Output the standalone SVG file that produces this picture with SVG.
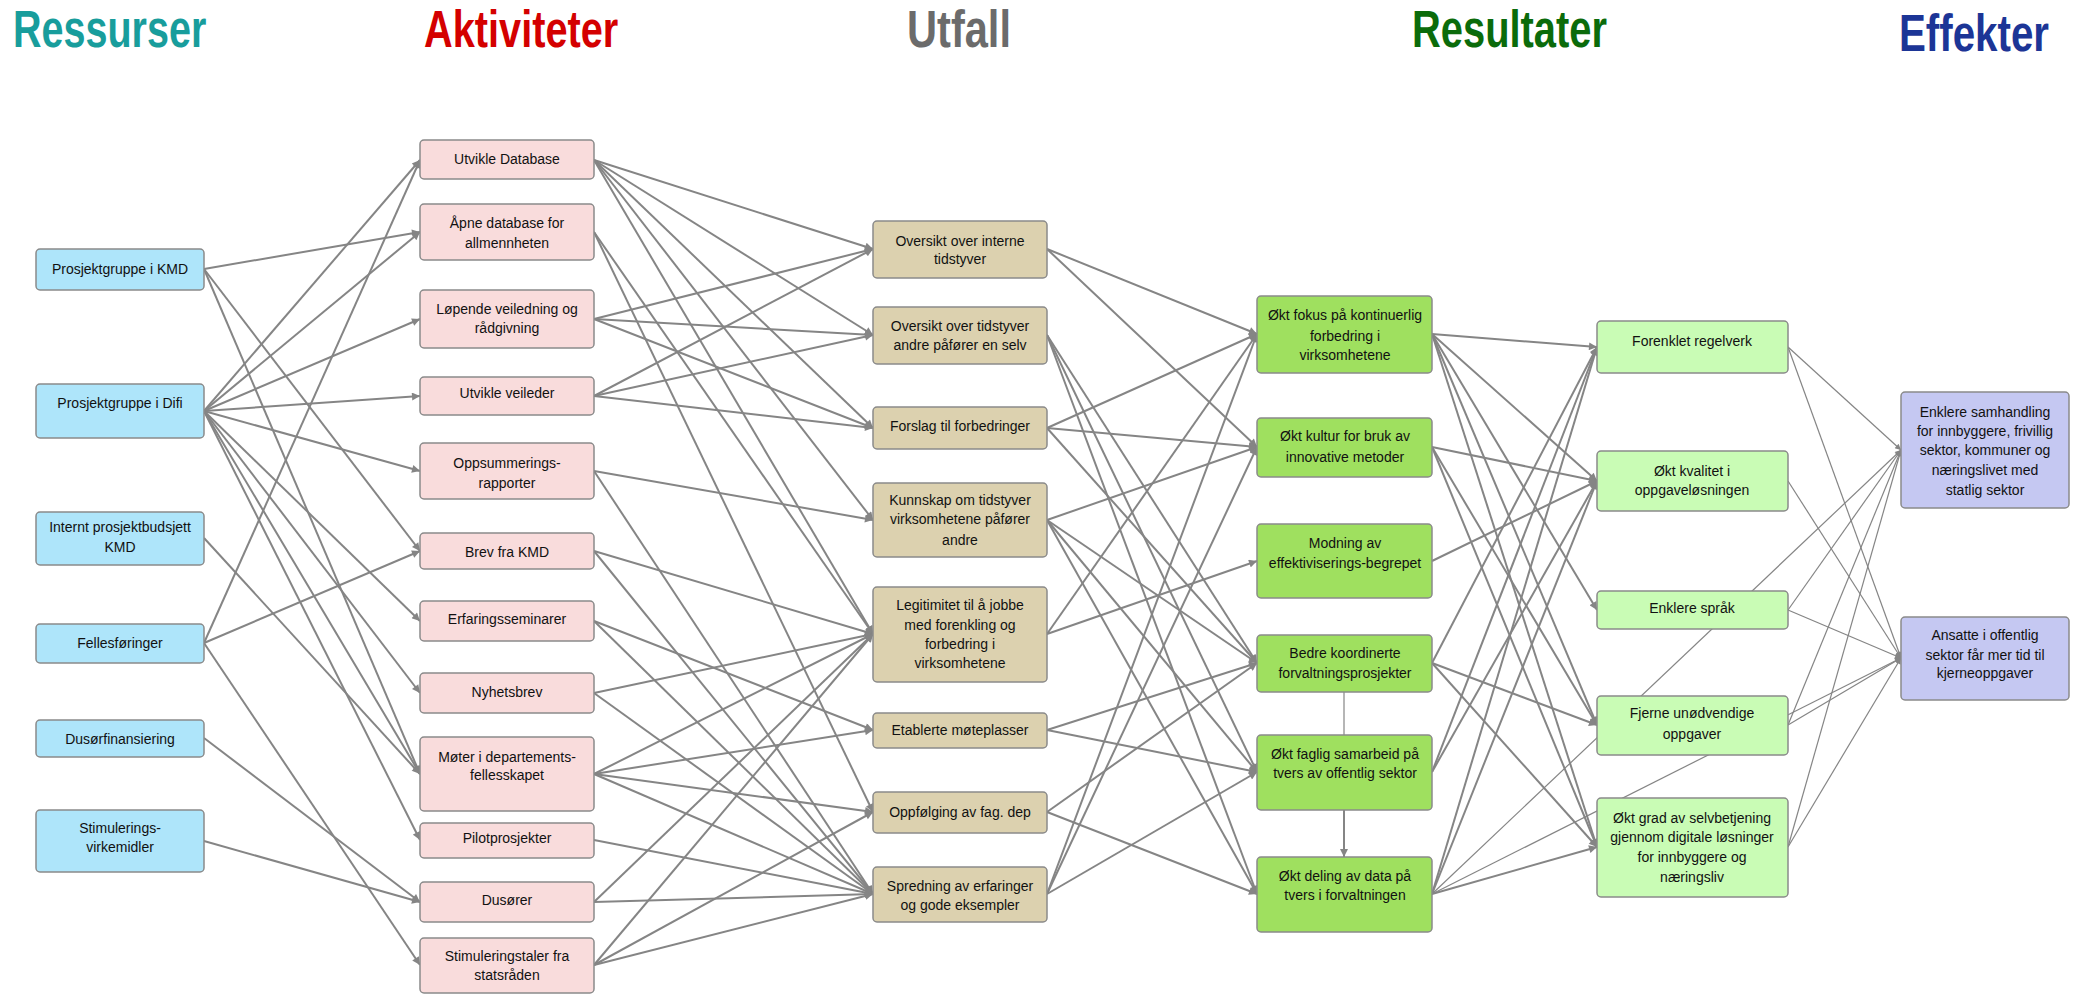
<svg xmlns="http://www.w3.org/2000/svg" width="2080" height="997" viewBox="0 0 2080 997">
<style>
.h{font-family:"Liberation Sans",Arial,sans-serif;font-weight:bold;font-size:52px}
.t{font-family:"Liberation Sans",Arial,sans-serif;font-size:14px;text-anchor:middle;fill:#111}
.b{stroke:#8a8a8a;stroke-width:1.5}
.r{fill:#aee5fa}.p{fill:#f9dcdc}.u{fill:#dcd1af}.g{fill:#9fe05f}.l{fill:#c9fcb5}.e{fill:#c5c8f2}
.c path{fill:none;stroke:#858585;stroke-width:2;marker-end:url(#a)}
.c path.s{stroke-width:1.2;marker-end:url(#s)}
.c path.n{stroke-width:1.2;marker-end:none}
</style>
<defs>
<marker id="a" viewBox="0 0 10 10" refX="10" refY="5" markerWidth="10" markerHeight="8" markerUnits="userSpaceOnUse" orient="auto"><path d="M0,0 L10,5 L0,10 z" fill="#858585"/></marker>
<marker id="s" viewBox="0 0 10 10" refX="10" refY="5" markerWidth="8" markerHeight="6" markerUnits="userSpaceOnUse" orient="auto"><path d="M0,0 L10,5 L0,10 z" fill="#858585"/></marker>
</defs>
<rect width="2080" height="997" fill="#fff"/>
<g id="headers">
<text class="h" transform="translate(13,47) scale(0.76,1)" fill="#189d9c">Ressurser</text>
<text class="h" transform="translate(424,47) scale(0.764,1)" fill="#d40000">Aktiviteter</text>
<text class="h" transform="translate(907,47) scale(0.8,1)" fill="#6b6b6b">Utfall</text>
<text class="h" transform="translate(1412,47) scale(0.767,1)" fill="#0b6b0b">Resultater</text>
<text class="h" transform="translate(1899,51) scale(0.775,1)" fill="#1c3596">Effekter</text>
</g>
<g id="connectors" class="c">
<path d="M204,269 L420,232"/><path d="M204,269 L420,551"/><path d="M204,269 L420,774"/>
<path d="M204,411 L420,160"/><path d="M204,411 L420,232"/><path d="M204,411 L420,319"/><path d="M204,411 L420,396"/><path d="M204,411 L420,471"/><path d="M204,411 L420,621"/><path d="M204,411 L420,693"/><path d="M204,411 L420,774"/><path d="M204,411 L420,840"/>
<path d="M204,538 L420,774"/>
<path d="M204,643 L420,160"/><path d="M204,643 L420,551"/><path d="M204,643 L420,965"/>
<path d="M204,738 L420,902"/><path d="M204,841 L420,902"/>
<path d="M594,160 L873,249"/><path d="M594,160 L873,335"/><path d="M594,160 L873,428"/><path d="M594,160 L873,520"/><path d="M594,160 L873,634"/>
<path d="M594,232 L873,634"/><path d="M594,232 L873,812"/>
<path d="M594,319 L873,249"/><path d="M594,319 L873,335"/><path d="M594,319 L873,428"/>
<path d="M594,396 L873,249"/><path d="M594,396 L873,335"/><path d="M594,396 L873,428"/>
<path d="M594,471 L873,520"/><path d="M594,471 L873,894"/>
<path d="M594,551 L873,634"/><path d="M594,551 L873,894"/>
<path d="M594,621 L873,730"/><path d="M594,621 L873,894"/>
<path d="M594,693 L873,634"/><path d="M594,693 L873,894"/>
<path d="M594,774 L873,634"/><path d="M594,774 L873,730"/><path d="M594,774 L873,812"/><path d="M594,774 L873,894"/>
<path d="M594,840 L873,894"/>
<path d="M594,902 L873,634"/><path d="M594,902 L873,894"/>
<path d="M594,965 L873,634"/><path d="M594,965 L873,812"/><path d="M594,965 L873,894"/>
<path d="M1047,249 L1257,334"/><path d="M1047,249 L1257,447"/>
<path d="M1047,335 L1257,663"/><path d="M1047,335 L1257,772"/><path d="M1047,335 L1257,894"/>
<path d="M1047,428 L1257,334"/><path d="M1047,428 L1257,447"/><path d="M1047,428 L1257,663"/>
<path d="M1047,520 L1257,447"/><path d="M1047,520 L1257,663"/><path d="M1047,520 L1257,772"/><path d="M1047,520 L1257,894"/>
<path d="M1047,634 L1257,334"/><path d="M1047,634 L1257,561"/>
<path d="M1047,730 L1257,663"/><path d="M1047,730 L1257,772"/>
<path d="M1047,812 L1257,663"/><path d="M1047,812 L1257,894"/>
<path d="M1047,894 L1257,334"/><path d="M1047,894 L1257,447"/><path d="M1047,894 L1257,772"/>
<path d="M1432,334 L1597,347"/><path d="M1432,334 L1597,481"/><path d="M1432,334 L1597,610"/><path d="M1432,334 L1597,725"/><path d="M1432,334 L1597,847"/>
<path d="M1432,447 L1597,481"/><path d="M1432,447 L1597,725"/><path d="M1432,447 L1597,847"/>
<path d="M1432,561 L1597,481"/>
<path d="M1432,663 L1597,347"/><path d="M1432,663 L1597,725"/><path d="M1432,663 L1597,847"/>
<path d="M1432,772 L1597,347"/><path d="M1432,772 L1597,481"/>
<path d="M1432,894 L1597,347"/><path d="M1432,894 L1597,481"/><path d="M1432,894 L1597,847"/>
<path class="n" d="M1344,692 L1344,735"/>
<path d="M1344,810 L1344,857"/>
<path class="s" d="M1432,894 L1901,450"/><path class="s" d="M1432,894 L1901,658"/>
<path class="s" d="M1788,347 L1901,450"/><path class="s" d="M1788,347 L1901,658"/>
<path class="s" d="M1788,481 L1901,658"/>
<path class="s" d="M1788,610 L1901,450"/><path class="s" d="M1788,610 L1901,658"/>
<path class="s" d="M1788,725 L1901,450"/><path class="s" d="M1788,725 L1901,658"/>
<path class="s" d="M1788,847 L1901,450"/><path class="s" d="M1788,847 L1901,658"/>
</g>
<g id="r1"><rect class="b r" x="36" y="249" width="168" height="41" rx="4"/><text class="t" x="120" y="274">Prosjektgruppe i KMD</text></g>
<g id="r2"><rect class="b r" x="36" y="384" width="168" height="54" rx="4"/><text class="t" x="120" y="408">Prosjektgruppe i Difi</text></g>
<g id="r3"><rect class="b r" x="36" y="512" width="168" height="53" rx="4"/><text class="t" x="120" y="532">Internt prosjektbudsjett</text><text class="t" x="120" y="552">KMD</text></g>
<g id="r4"><rect class="b r" x="36" y="624" width="168" height="39" rx="4"/><text class="t" x="120" y="648">Fellesføringer</text></g>
<g id="r5"><rect class="b r" x="36" y="720" width="168" height="37" rx="4"/><text class="t" x="120" y="744">Dusørfinansiering</text></g>
<g id="r6"><rect class="b r" x="36" y="810" width="168" height="62" rx="4"/><text class="t" x="120" y="833">Stimulerings-</text><text class="t" x="120" y="852">virkemidler</text></g>
<g id="a1"><rect class="b p" x="420" y="140" width="174" height="39" rx="4"/><text class="t" x="507" y="164">Utvikle Database</text></g>
<g id="a2"><rect class="b p" x="420" y="204" width="174" height="56" rx="4"/><text class="t" x="507" y="228">Åpne database for</text><text class="t" x="507" y="248">allmennheten</text></g>
<g id="a3"><rect class="b p" x="420" y="290" width="174" height="58" rx="4"/><text class="t" x="507" y="314">Løpende veiledning og</text><text class="t" x="507" y="333">rådgivning</text></g>
<g id="a4"><rect class="b p" x="420" y="377" width="174" height="38" rx="4"/><text class="t" x="507" y="398">Utvikle veileder</text></g>
<g id="a5"><rect class="b p" x="420" y="443" width="174" height="56" rx="4"/><text class="t" x="507" y="468">Oppsummerings-</text><text class="t" x="507" y="488">rapporter</text></g>
<g id="a6"><rect class="b p" x="420" y="533" width="174" height="36" rx="4"/><text class="t" x="507" y="557">Brev fra KMD</text></g>
<g id="a7"><rect class="b p" x="420" y="601" width="174" height="40" rx="4"/><text class="t" x="507" y="624">Erfaringsseminarer</text></g>
<g id="a8"><rect class="b p" x="420" y="673" width="174" height="40" rx="4"/><text class="t" x="507" y="697">Nyhetsbrev</text></g>
<g id="a9"><rect class="b p" x="420" y="737" width="174" height="74" rx="4"/><text class="t" x="507" y="762">Møter i departements-</text><text class="t" x="507" y="780">fellesskapet</text></g>
<g id="a10"><rect class="b p" x="420" y="823" width="174" height="35" rx="4"/><text class="t" x="507" y="843">Pilotprosjekter</text></g>
<g id="a11"><rect class="b p" x="420" y="882" width="174" height="40" rx="4"/><text class="t" x="507" y="905">Dusører</text></g>
<g id="a12"><rect class="b p" x="420" y="938" width="174" height="55" rx="4"/><text class="t" x="507" y="961">Stimuleringstaler fra</text><text class="t" x="507" y="980">statsråden</text></g>
<g id="u1"><rect class="b u" x="873" y="221" width="174" height="57" rx="4"/><text class="t" x="960" y="246">Oversikt over interne</text><text class="t" x="960" y="264">tidstyver</text></g>
<g id="u2"><rect class="b u" x="873" y="307" width="174" height="57" rx="4"/><text class="t" x="960" y="331">Oversikt over tidstyver</text><text class="t" x="960" y="350">andre påfører en selv</text></g>
<g id="u3"><rect class="b u" x="873" y="407" width="174" height="42" rx="4"/><text class="t" x="960" y="431">Forslag til forbedringer</text></g>
<g id="u4"><rect class="b u" x="873" y="483" width="174" height="74" rx="4"/><text class="t" x="960" y="505">Kunnskap om tidstyver</text><text class="t" x="960" y="524">virksomhetene påfører</text><text class="t" x="960" y="545">andre</text></g>
<g id="u5"><rect class="b u" x="873" y="587" width="174" height="95" rx="4"/><text class="t" x="960" y="610">Legitimitet til å jobbe</text><text class="t" x="960" y="630">med forenkling og</text><text class="t" x="960" y="649">forbedring  i</text><text class="t" x="960" y="668">virksomhetene</text></g>
<g id="u6"><rect class="b u" x="873" y="713" width="174" height="35" rx="4"/><text class="t" x="960" y="735">Etablerte møteplasser</text></g>
<g id="u7"><rect class="b u" x="873" y="792" width="174" height="41" rx="4"/><text class="t" x="960" y="817">Oppfølging av fag. dep</text></g>
<g id="u8"><rect class="b u" x="873" y="867" width="174" height="55" rx="4"/><text class="t" x="960" y="891">Spredning av erfaringer</text><text class="t" x="960" y="910">og gode eksempler</text></g>
<g id="s1"><rect class="b g" x="1257" y="296" width="175" height="77" rx="4"/><text class="t" x="1345" y="320">Økt fokus på kontinuerlig</text><text class="t" x="1345" y="341">forbedring i</text><text class="t" x="1345" y="360">virksomhetene</text></g>
<g id="s2"><rect class="b g" x="1257" y="418" width="175" height="59" rx="4"/><text class="t" x="1345" y="441">Økt kultur for bruk av</text><text class="t" x="1345" y="462">innovative metoder</text></g>
<g id="s3"><rect class="b g" x="1257" y="524" width="175" height="74" rx="4"/><text class="t" x="1345" y="548">Modning av</text><text class="t" x="1345" y="568">effektiviserings-begrepet</text></g>
<g id="s4"><rect class="b g" x="1257" y="635" width="175" height="57" rx="4"/><text class="t" x="1345" y="658">Bedre koordinerte</text><text class="t" x="1345" y="678">forvaltningsprosjekter</text></g>
<g id="s5"><rect class="b g" x="1257" y="735" width="175" height="75" rx="4"/><text class="t" x="1345" y="759">Økt faglig samarbeid på</text><text class="t" x="1345" y="778">tvers av offentlig sektor</text></g>
<g id="s6"><rect class="b g" x="1257" y="857" width="175" height="75" rx="4"/><text class="t" x="1345" y="881">Økt deling av data på</text><text class="t" x="1345" y="900">tvers i forvaltningen</text></g>
<g id="v1"><rect class="b l" x="1597" y="321" width="191" height="52" rx="4"/><text class="t" x="1692" y="346">Forenklet regelverk</text></g>
<g id="v2"><rect class="b l" x="1597" y="451" width="191" height="60" rx="4"/><text class="t" x="1692" y="476">Økt kvalitet i</text><text class="t" x="1692" y="495">oppgaveløsningen</text></g>
<g id="v3"><rect class="b l" x="1597" y="591" width="191" height="38" rx="4"/><text class="t" x="1692" y="613">Enklere språk</text></g>
<g id="v4"><rect class="b l" x="1597" y="696" width="191" height="59" rx="4"/><text class="t" x="1692" y="718">Fjerne unødvendige</text><text class="t" x="1692" y="739">oppgaver</text></g>
<g id="v5"><rect class="b l" x="1597" y="798" width="191" height="99" rx="4"/><text class="t" x="1692" y="823">Økt grad av selvbetjening</text><text class="t" x="1692" y="842">gjennom digitale løsninger</text><text class="t" x="1692" y="862">for innbyggere og</text><text class="t" x="1692" y="882">næringsliv</text></g>
<g id="f1"><rect class="b e" x="1901" y="392" width="168" height="116" rx="4"/><text class="t" x="1985" y="417">Enklere samhandling</text><text class="t" x="1985" y="436">for innbyggere, frivillig</text><text class="t" x="1985" y="455">sektor, kommuner og</text><text class="t" x="1985" y="475">næringslivet med</text><text class="t" x="1985" y="495">statlig sektor</text></g>
<g id="f2"><rect class="b e" x="1901" y="617" width="168" height="83" rx="4"/><text class="t" x="1985" y="640">Ansatte i offentlig</text><text class="t" x="1985" y="660">sektor får mer tid til</text><text class="t" x="1985" y="678">kjerneoppgaver</text></g>
</svg>
